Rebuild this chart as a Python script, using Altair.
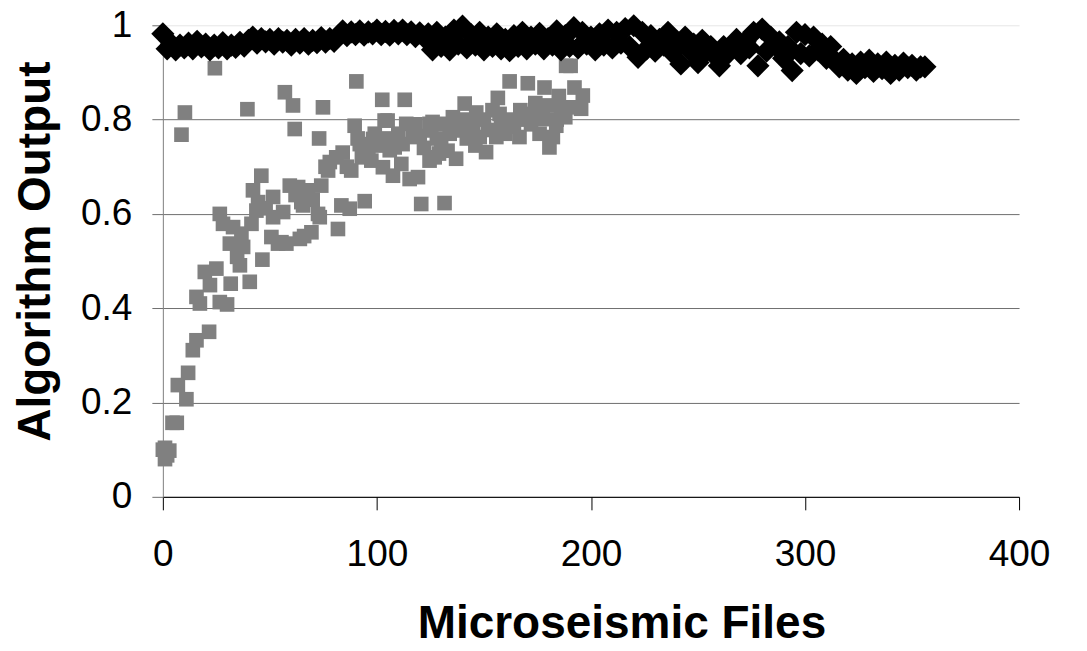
import altair as alt
import pandas as pd

# Gray squares series (file index, algorithm output)
gray_x = [0, 1, 1, 2, 3, 4.5, 6.5, 7, 8.7, 10.3, 11, 11.8, 14, 15.7, 15.7, 17.3, 19.6, 21.6, 22, 24.3,
          25, 26.6, 26.6, 28.1, 30, 31.3, 31.7, 32.8, 34.7, 36, 36.7, 37.5, 39.5, 40.6, 41.4, 42.1, 43.7, 44.5, 46, 46.5,
          48, 50.7, 51.5, 51.5, 53.8, 55.4, 56.2, 57, 57.7, 59.3, 60.8, 61.6, 62, 63.2, 64, 64.7, 65.5, 66, 67.8, 69.4,
          70, 72.5, 73, 73.3, 74, 74.8, 76, 77.2, 78, 81, 81.8, 83.4, 84, 86, 87.3, 88, 89.6, 90.4, 91, 92,
          93, 94.3, 96, 97.4, 98.2, 99, 100, 102.5, 102.8, 103.6, 104, 105, 106, 107.5, 108.3, 110, 111.4, 112, 113, 113.7,
          115.3, 116.8, 118, 119.2, 120, 120.7, 122, 124.6, 124.6, 125.4, 126, 127, 128, 129, 130, 131.6, 131.6, 133, 134, 135.5,
          136, 137, 138.6, 140, 141, 142, 144, 146, 146.4, 148, 150, 151, 152, 154, 155.8, 156.5, 157.3, 158, 160, 162,
          162.5, 164, 166.6, 167, 169.8, 170.5, 172, 174, 176, 177.5, 178.3, 180, 180.6, 182.2, 183.8, 185, 186, 188, 188.4, 190.5,
          191.2, 192.3, 195.4, 196.2, 145, 168, 175, 184]
gray_y = [0.100, 0.080, 0.104, 0.088, 0.098, 0.157, 0.157, 0.237, 0.768, 0.815, 0.207, 0.263, 0.311, 0.332, 0.424, 0.410, 0.477, 0.350, 0.449, 0.909,
          0.484, 0.413, 0.600, 0.579, 0.408, 0.537, 0.452, 0.572, 0.509, 0.491, 0.558, 0.530, 0.822, 0.456, 0.579, 0.650, 0.607, 0.625, 0.681, 0.503,
          0.612, 0.551, 0.593, 0.636, 0.537, 0.540, 0.604, 0.858, 0.537, 0.660, 0.830, 0.780, 0.640, 0.657, 0.547, 0.625, 0.618, 0.553, 0.650, 0.561,
          0.630, 0.600, 0.760, 0.593, 0.660, 0.826, 0.700, 0.692, 0.710, 0.720, 0.568, 0.618, 0.730, 0.700, 0.611, 0.692, 0.787, 0.881, 0.760, 0.748,
          0.720, 0.627, 0.740, 0.713, 0.759, 0.770, 0.745, 0.842, 0.699, 0.798, 0.760, 0.798, 0.735, 0.681, 0.741, 0.770, 0.706, 0.748, 0.842, 0.791,
          0.674, 0.763, 0.790, 0.678, 0.765, 0.621, 0.740, 0.791, 0.713, 0.777, 0.795, 0.720, 0.760, 0.728, 0.745, 0.623, 0.791, 0.734, 0.770, 0.805,
          0.790, 0.717, 0.777, 0.800, 0.834, 0.760, 0.785, 0.745, 0.815, 0.763, 0.800, 0.731, 0.778, 0.820, 0.763, 0.846, 0.812, 0.790, 0.770, 0.881,
          0.800, 0.785, 0.763, 0.820, 0.812, 0.877, 0.790, 0.835, 0.770, 0.801, 0.868, 0.830, 0.741, 0.763, 0.787, 0.850, 0.820, 0.805, 0.914, 0.914,
          0.826, 0.868, 0.823, 0.851, 0.790, 0.800, 0.815, 0.800]

# Black diamonds series
black_x = [0, 2, 4, 6, 8, 10, 12, 14, 16, 18, 20, 22, 24, 26, 28, 30, 32, 34, 36, 38, 40,
           42, 44, 46, 48, 50, 52, 54, 56, 58, 60, 62, 64, 66, 68, 70, 72, 74, 76, 78, 80, 82,
           84, 86, 88, 90, 92, 94, 96, 98, 100, 102, 104, 106, 108, 110, 112, 114, 116, 118, 120, 122, 124,
           126, 128, 130, 132, 134, 136, 138, 140, 142, 144, 146, 148, 150, 152, 154, 156, 158, 160, 162, 164,
           166, 168, 170, 172, 174, 176, 178, 180, 182, 184, 186, 188, 190, 192, 194, 196, 198, 200, 202, 204,
           206, 208, 210, 212, 214, 216, 218, 220, 222, 224, 226, 228, 230, 232, 234, 236, 238, 240, 242, 244,
           246, 248, 250, 252, 254, 256, 258, 260, 262, 264,
           266, 268, 270, 272, 274, 276, 278, 280, 282, 284, 286, 288, 290, 292, 294, 296, 298, 300, 302, 304,
           306, 308, 310, 312,
           314, 316, 318, 320, 322, 324, 326, 328, 330, 332, 334, 336, 338, 340, 342, 344, 346, 348, 350, 352,
           354, 356]
black_y = [0.982, 0.950, 0.960, 0.948, 0.958, 0.952, 0.962, 0.950, 0.966, 0.954, 0.960, 0.948, 0.958, 0.952, 0.963, 0.950, 0.958, 0.953, 0.964, 0.956, 0.968,
           0.975, 0.962, 0.972, 0.965, 0.970, 0.960, 0.972, 0.964, 0.968, 0.958, 0.970, 0.962, 0.972, 0.960, 0.968, 0.963, 0.974, 0.964, 0.972, 0.966, 0.978,
           0.988, 0.978, 0.986, 0.980, 0.988, 0.979, 0.986, 0.982, 0.990, 0.980, 0.987, 0.979, 0.989, 0.982, 0.990, 0.980, 0.986, 0.976, 0.984, 0.975, 0.982,
           0.948, 0.985, 0.955, 0.975, 0.948, 0.990, 0.960, 0.998, 0.952, 0.980, 0.958, 0.985, 0.948, 0.975, 0.955, 0.982, 0.950, 0.970, 0.946, 0.978,
           0.955, 0.985, 0.950, 0.975, 0.960, 0.983, 0.950, 0.972, 0.958, 0.988, 0.948, 0.978, 0.955, 0.995, 0.952, 0.985, 0.960, 0.975, 0.948, 0.982,
           0.958, 0.990, 0.952, 0.985, 0.962, 0.993, 0.955, 0.999, 0.932, 0.985, 0.950, 0.978, 0.945, 0.970, 0.958, 0.985, 0.942, 0.965, 0.918, 0.975,
           0.948, 0.960, 0.921, 0.968, 0.945, 0.955, 0.935, 0.914, 0.955, 0.940,
           0.955, 0.970, 0.940, 0.965, 0.952, 0.985, 0.914, 0.992, 0.945, 0.975, 0.958, 0.965, 0.930, 0.955, 0.904, 0.985, 0.940, 0.980, 0.935, 0.975,
           0.948, 0.960, 0.930, 0.955,
           0.925, 0.912, 0.928, 0.905, 0.918, 0.898, 0.922, 0.910, 0.926, 0.902, 0.918, 0.908, 0.922, 0.898, 0.915, 0.905, 0.920, 0.910, 0.915, 0.905,
           0.912, 0.912]

x_ticks = [0, 100, 200, 300, 400]
y_ticks = [0, 0.2, 0.4, 0.6, 0.8, 1.0]

gray = pd.DataFrame({"x": gray_x, "y": gray_y})
black = pd.DataFrame({"x": black_x, "y": black_y})

FONT = "Liberation Sans"

xscale = alt.Scale(domain=[0, 400], nice=False, zero=False)
yscale = alt.Scale(domain=[0, 1], nice=False)

xaxis = alt.Axis(
    values=x_ticks, grid=False, title="Microseismic Files",
    domainColor="black", domainWidth=1, tickColor="black", tickSize=13, tickWidth=1,
    labelFont=FONT, labelFontSize=37, labelColor="black", labelPadding=27,
    labelFlush=False, labelOverlap=False, labelBound=False,
    titleFont=FONT, titleFontSize=46, titleFontWeight="bold", titleColor="black",
    titleX=459, titleY=141, titleBaseline="alphabetic",
)
yaxis = alt.Axis(
    values=y_ticks, format="~g", title="Algorithm Output",
    grid=True,
    gridColor={"condition": {"test": "datum.value >= 1", "value": "#e6e6e6"}, "value": "#6e6e6e"},
    gridWidth=1,
    domainColor="#808080", domainWidth=1, tickColor="#6e6e6e", tickSize=11, tickWidth=1,
    labelFont=FONT, labelFontSize=37, labelColor="black", labelPadding=20,
    labelFlush=False, labelOverlap=False, labelBound=False,
    titleFont=FONT, titleFontSize=46, titleFontWeight="bold", titleColor="black",
    titleX=-113, titleY=226, titleBaseline="alphabetic", titleAngle=270,
)

gray_layer = alt.Chart(gray).mark_point(
    shape="square", filled=True, size=215, color="#808080", opacity=1, strokeWidth=0
).encode(
    x=alt.X("x:Q", scale=xscale, axis=xaxis),
    y=alt.Y("y:Q", scale=yscale, axis=yaxis),
)

black_layer = alt.Chart(black).mark_point(
    shape="diamond", filled=True, size=540, color="#000000", opacity=1, strokeWidth=0
).encode(
    x=alt.X("x:Q", scale=xscale),
    y=alt.Y("y:Q", scale=yscale),
)

chart = alt.layer(gray_layer, black_layer).properties(
    width=857, height=472,
    autosize=alt.AutoSizeParams(type="none"),
    padding={"left": 155, "top": 17, "right": 60, "bottom": 150},
    background="white",
).configure_view(strokeWidth=0)

chart.save("out.html", embed_options={"renderer": "svg", "actions": False})
